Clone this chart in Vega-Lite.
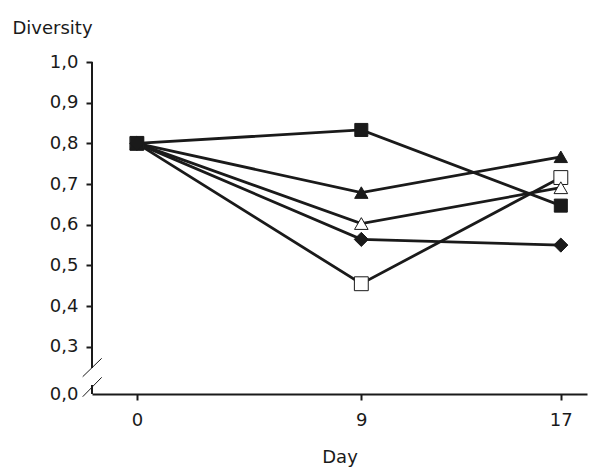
{
  "$schema": "https://vega.github.io/schema/vega-lite/v6.json",
  "width": 495,
  "height": 332,
  "autosize": {"type": "none"},
  "padding": {"left": 92, "top": 62, "right": 13, "bottom": 82},
  "background": "white",
  "config": {
    "view": {"stroke": null},
    "font": "DejaVu Sans",
    "axis": {"labelFont": "DejaVu Sans", "titleFont": "DejaVu Sans", "labelFontSize": 18, "titleFontSize": 18, "titleFontWeight": "normal", "labelColor": "#1a1a1a", "titleColor": "#1a1a1a", "grid": false, "tickColor": "#1a1a1a", "domainColor": "#1a1a1a", "tickWidth": 2, "domainWidth": 2}
  },
  "datasets": {
    "series": [
      {"day": 0, "diversity": 0.8, "series": "open square"},
      {"day": 9, "diversity": 0.455, "series": "open square"},
      {"day": 17, "diversity": 0.716, "series": "open square"},
      {"day": 0, "diversity": 0.8, "series": "open triangle"},
      {"day": 9, "diversity": 0.603, "series": "open triangle"},
      {"day": 17, "diversity": 0.691, "series": "open triangle"},
      {"day": 0, "diversity": 0.8, "series": "filled triangle"},
      {"day": 9, "diversity": 0.679, "series": "filled triangle"},
      {"day": 17, "diversity": 0.767, "series": "filled triangle"},
      {"day": 0, "diversity": 0.8, "series": "filled square"},
      {"day": 9, "diversity": 0.833, "series": "filled square"},
      {"day": 17, "diversity": 0.647, "series": "filled square"},
      {"day": 0, "diversity": 0.8, "series": "filled diamond"},
      {"day": 9, "diversity": 0.564, "series": "filled diamond"},
      {"day": 17, "diversity": 0.55, "series": "filled diamond"}
    ],
    "axisline": [
      {"x": -1.8, "x2": -1.8, "y": 0.248, "y2": 1.0},
      {"x": -1.8, "x2": -1.8, "y": 0.184, "y2": 0.206}
    ],
    "breakmarks": [
      {"x": -2.173, "x2": -1.411, "y": 0.2265, "y2": 0.2717},
      {"x": -2.173, "x2": -1.411, "y": 0.1773, "y2": 0.225}
    ]
  },
  "layer": [
    {
      "data": {"name": "axisline"},
      "mark": {"type": "rule", "strokeWidth": 2, "color": "#1a1a1a"},
      "encoding": {
        "x": {"field": "x", "type": "quantitative", "scale": {"domain": [-1.8, 18.05], "nice": false, "zero": false},
          "axis": {"values": [0, 9, 17], "title": "Day", "tickSize": 6, "labelPadding": 11, "titlePadding": 19, "format": "d"}},
        "x2": {"field": "x2"},
        "y": {"field": "y", "type": "quantitative", "scale": {"domain": [0.184, 1.0], "nice": false, "zero": false},
          "axis": {"values": [0.184, 0.3, 0.4, 0.5, 0.6, 0.7, 0.8, 0.9, 1.0], "domain": false, "tickSize": 6, "labelPadding": 8,
            "tickOpacity": {"condition": {"test": "datum.value < 0.25", "value": 0}, "value": 1},
            "labelExpr": "datum.value < 0.25 ? '0,0' : replace(format(datum.value, '.1f'), '.', ',')",
            "title": "Diversity", "titleAngle": 0, "titleAlign": "left", "titleBaseline": "alphabetic", "titleX": -80, "titleY": -29}},
        "y2": {"field": "y2"}
      }
    },
    {
      "data": {"name": "breakmarks"},
      "mark": {"type": "rule", "strokeWidth": 1, "color": "#1a1a1a"},
      "encoding": {
        "x": {"field": "x", "type": "quantitative"},
        "x2": {"field": "x2"},
        "y": {"field": "y", "type": "quantitative"},
        "y2": {"field": "y2"}
      }
    },
    {
      "data": {"name": "series"},
      "mark": {"type": "line", "strokeWidth": 2.8, "color": "#1a1a1a"},
      "encoding": {
        "x": {"field": "day", "type": "quantitative"},
        "y": {"field": "diversity", "type": "quantitative"},
        "detail": {"field": "series"}
      }
    },
    {
      "data": {"name": "series"},
      "mark": {"type": "point", "filled": false, "stroke": "#1a1a1a", "strokeWidth": 1, "opacity": 1},
      "encoding": {
        "x": {"field": "day", "type": "quantitative"},
        "y": {"field": "diversity", "type": "quantitative"},
        "shape": {"field": "series", "type": "nominal", "legend": null,
          "scale": {"domain": ["filled square", "filled triangle", "open triangle", "open square", "filled diamond"], "range": ["square", "triangle-up", "triangle-up", "square", "diamond"]}},
        "fill": {"field": "series", "type": "nominal", "legend": null,
          "scale": {"domain": ["filled square", "filled triangle", "open triangle", "open square", "filled diamond"], "range": ["#1a1a1a", "#1a1a1a", "#ffffff", "#ffffff", "#1a1a1a"]}},
        "size": {"field": "series", "type": "nominal", "legend": null,
          "scale": {"domain": ["filled square", "filled triangle", "open triangle", "open square", "filled diamond"], "range": [170, 200, 170, 150, 270]}}
      }
    }
  ]
}
